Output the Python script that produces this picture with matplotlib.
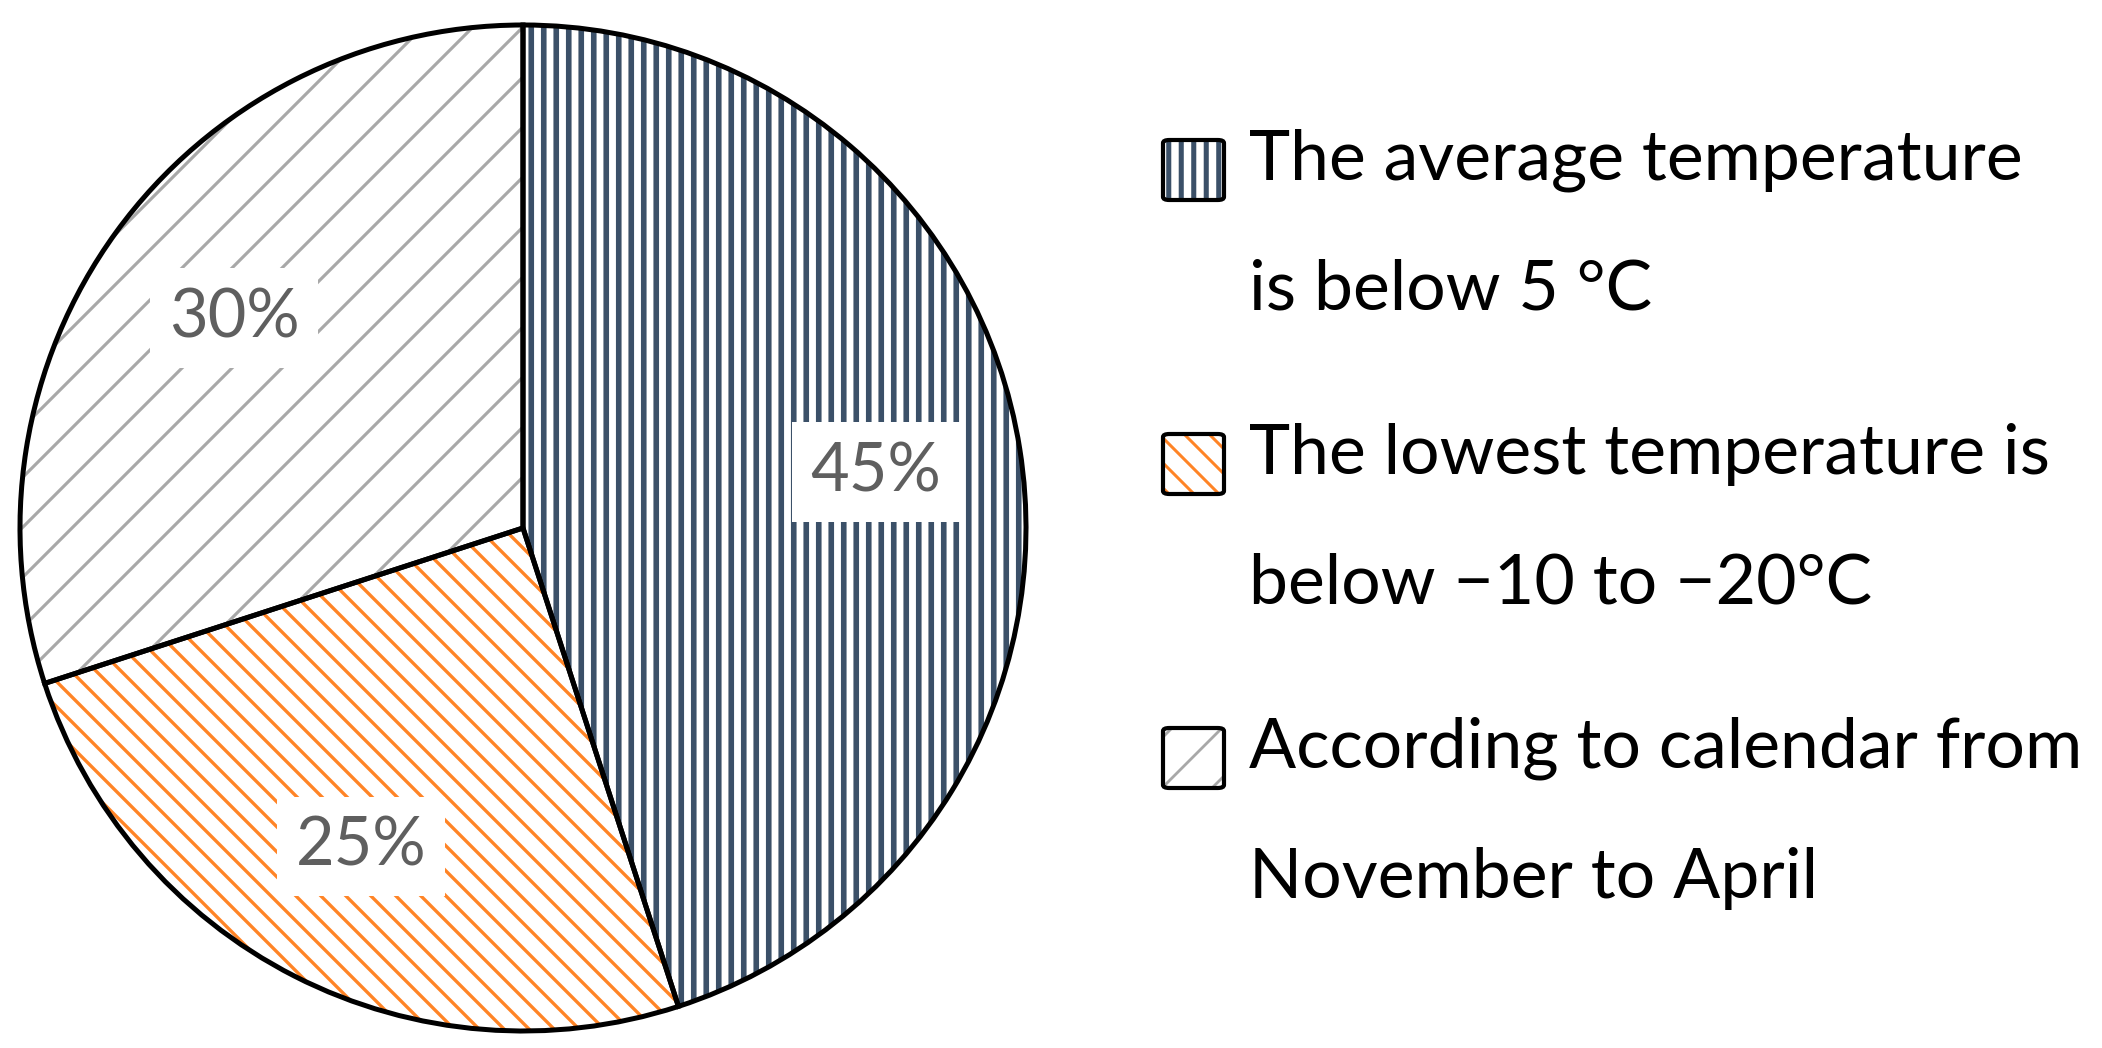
import matplotlib
matplotlib.use('Agg')
import matplotlib.pyplot as plt
from matplotlib.patches import FancyBboxPatch

plt.rcParams['font.family'] = ['Lato', 'DejaVu Sans']

# data
shares = [45, 25, 30]
labels = ['The average temperature\nis below 5 °C',
          'The lowest temperature is\nbelow \u221210 to \u221220°C',
          'According to calendar from\nNovember to April']
colors = ['#3b5068', '#ff8426', '#a8a8a8']
hatches = ['||', '\\\\', '/']
hatch_lw = [2.7, 1.6, 1.5]

W, H, DPI = 2102, 1048, 150
fig = plt.figure(figsize=(W / DPI, H / DPI), dpi=DPI)

cx, cy, r = 523, 528, 503
lim = 1.02
ax = fig.add_axes([(cx - r * lim) / W, (H - cy - r * lim) / H,
                   2 * r * lim / W, 2 * r * lim / H])


def hatch_width(artist, lw):
    # hatch line width is read from rcParams; keep it per artist
    if hasattr(artist, 'set_hatch_linewidth'):
        artist.set_hatch_linewidth(lw)
    orig = artist.draw

    def draw(renderer):
        with plt.rc_context({'hatch.linewidth': lw}):
            orig(renderer)
    artist.draw = draw


# hatched fills (hatch colour comes from the edge colour)
for i in range(len(shares)):
    with plt.rc_context({'hatch.linewidth': hatch_lw[i]}):
        wedges, _ = ax.pie(shares, startangle=90, counterclock=False,
                           colors=['white'] * 3)
    for j, w in enumerate(wedges):
        if j != i:
            w.set_visible(False)
        else:
            w.set_hatch(hatches[i])
            w.set_edgecolor(colors[i])
            w.set_linewidth(0)
            hatch_width(w, hatch_lw[i])

# outlines + percentage labels
wedges, _, autotexts = ax.pie(shares, startangle=90, counterclock=False,
                              autopct='%d%%', pctdistance=0.71,
                              wedgeprops=dict(fill=False, edgecolor='black',
                                              linewidth=2.4, clip_on=False),
                              textprops=dict(fontsize=32, color='#5f5f5f'))
for t in autotexts:
    t.set_bbox(dict(facecolor='white', edgecolor='none', pad=9))

ax.set_xlim(-lim, lim)
ax.set_ylim(-lim, lim)
ax.set_aspect('equal')
ax.axis('off')

# legend drawn by hand
box_x, box_w, box_h = 1163, 61, 60
text_x = 1249
for i, lab in enumerate(labels):
    top = 140 + 294 * i
    for k in range(2):
        p = FancyBboxPatch((box_x / W, (H - top - box_h) / H),
                           box_w / W, box_h / H,
                           boxstyle='round,pad=0,rounding_size=0.003',
                           transform=fig.transFigure,
                           facecolor='white' if k == 0 else 'none',
                           edgecolor=colors[i] if k == 0 else 'black',
                           hatch=hatches[i] if k == 0 else None,
                           linewidth=0 if k == 0 else 2.0)
        if k == 0:
            hatch_width(p, hatch_lw[i] * 0.9)
        fig.add_artist(p)
    for n, line in enumerate(lab.split('\n')):
        base = 180 + 294 * i + 130 * n
        fig.text(text_x / W, (H - base) / H, line, fontsize=33.5,
                 ha='left', va='baseline', color='black')

fig.savefig('out.png', dpi=DPI)
